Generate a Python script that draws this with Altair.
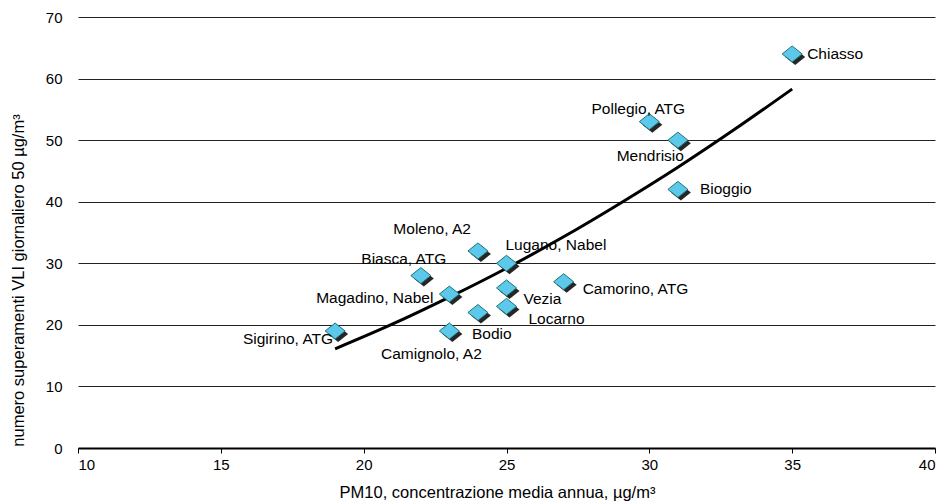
import altair as alt
import pandas as pd

# Data
stations = ["Chiasso", "Pollegio, ATG", "Mendrisio", "Bioggio", "Moleno, A2",
            "Lugano, Nabel", "Biasca, ATG", "Magadino, Nabel", "Vezia", "Locarno",
            "Camorino, ATG", "Bodio", "Camignolo, A2", "Sigirino, ATG"]
pm10 = [35, 30, 31, 31, 24, 25, 22, 23, 25, 25, 27, 24, 23, 19]
exceedances = [64, 53, 50, 42, 32, 30, 28, 25, 26, 23, 27, 22, 19, 19]

# Trend line
trend_x = [19, 21, 23, 25, 27, 29, 31, 33, 35]
trend_y = [16.1, 20.1, 24.5, 29.2, 34.3, 39.8, 45.6, 51.8, 58.3]

x_ticks = [10, 15, 20, 25, 30, 35, 40]
y_ticks = [0, 10, 20, 30, 40, 50, 60, 70]

# Label placement (style): align, dx, dy in pixels
label_style = {
    "Chiasso": ("left", 15, 0),
    "Pollegio, ATG": ("center", -11, -13),
    "Mendrisio": ("right", 6, 16),
    "Bioggio": ("left", 22, 0),
    "Moleno, A2": ("right", -7, -22),
    "Lugano, Nabel": ("left", -1, -18),
    "Biasca, ATG": ("center", -17, -17),
    "Magadino, Nabel": ("right", -16, 4),
    "Vezia": ("left", 17, 11),
    "Locarno": ("left", 22, 13),
    "Camorino, ATG": ("left", 19, 7),
    "Bodio": ("left", -6, 21),
    "Camignolo, A2": ("center", -18, 23),
    "Sigirino, ATG": ("right", -2, 8),
}

FONT = "Liberation Sans"

pts = pd.DataFrame({"station": stations, "pm10": pm10, "n": exceedances})
trend = pd.DataFrame({"pm10": trend_x, "n": trend_y})

xscale = alt.Scale(domain=[10, 40], nice=False, zero=False)
yscale = alt.Scale(domain=[0, 70], nice=False)

x_enc = alt.X("pm10:Q", scale=xscale, axis=alt.Axis(
    values=x_ticks, title="PM10, concentrazione media annua, µg/m³",
    grid=False, domain=True, domainColor="black", domainWidth=2,
    ticks=True, tickColor="black", tickSize=5, tickWidth=1,
    labelFont=FONT, labelFontSize=15, labelColor="black", labelPadding=4,
    titleFont=FONT, titleFontSize=16.5, titleFontWeight="normal", titleColor="black",
    titleX=419, titleY=44, titleBaseline="middle", titleAlign="center",
))
y_enc = alt.Y("n:Q", scale=yscale, axis=alt.Axis(
    values=y_ticks, title="numero superamenti VLI giornaliero 50 µg/m³",
    grid=True, gridColor="#222222", gridWidth=1, domain=False,
    ticks=False, tickSize=0, labelPadding=16,
    labelFont=FONT, labelFontSize=15, labelColor="black",
    titleFont=FONT, titleFontSize=16.5, titleFontWeight="normal", titleColor="black",
    titleX=-60, titleY=263, titleAngle=-90, titleBaseline="middle", titleAlign="center",
))

diamond = "M0,-0.8L1,0L0,0.8L-1,0Z"

base = alt.Chart(pts)

shadow = base.mark_point(shape=diamond, filled=True, size=400, color="black",
                         opacity=0.85).encode(
    x=x_enc, y=y_enc, xOffset=alt.value(3), yOffset=alt.value(3))

points = base.mark_point(shape=diamond, filled=True, size=400, fill="#5CC8EA",
                         stroke="#1E7376", strokeWidth=1, opacity=1).encode(
    x=alt.X("pm10:Q", scale=xscale), y=alt.Y("n:Q", scale=yscale))

line = alt.Chart(trend).mark_line(color="black", strokeWidth=3,
                                  interpolate="monotone").encode(
    x=alt.X("pm10:Q", scale=xscale), y=alt.Y("n:Q", scale=yscale))

labels = []
for name in stations:
    align, dx, dy = label_style[name]
    labels.append(
        base.transform_filter(alt.datum.station == name).mark_text(
            align=align, baseline="middle", dx=dx, dy=dy,
            font=FONT, fontSize=15.5, color="black").encode(
            x=alt.X("pm10:Q", scale=xscale), y=alt.Y("n:Q", scale=yscale),
            text="station:N")
    )

chart = alt.layer(shadow, line, points, *labels).properties(
    width=857, height=431,
    autosize=alt.AutoSizeParams(type="none"),
    padding={"left": 70, "top": 9, "right": 6, "bottom": 54},
    background="white",
).configure_view(stroke=None)

chart.save("out.html", embed_options={"renderer": "svg", "actions": False})
